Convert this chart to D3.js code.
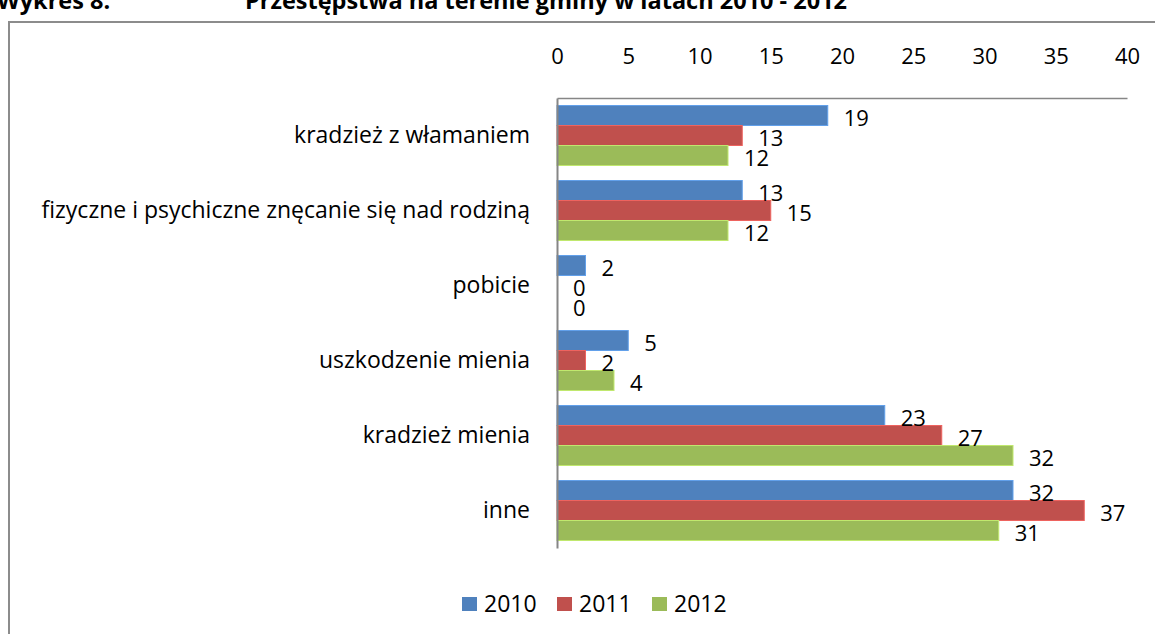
<!DOCTYPE html>
<html>
<head>
<meta charset="utf-8">
<script src="https://cdn.jsdelivr.net/npm/d3@7"></script>
<style>
  html, body { margin: 0; padding: 0; background: #fff; }
  svg { display: block; }
  text { font-family: "Open Sans", sans-serif; fill: #000; }
</style>
</head>
<body>
<div id="chart"></div>
<script>
// ── Data ─────────────────────────────────────────────────────────
const categories = [
  'kradzież z włamaniem',
  'fizyczne i psychiczne znęcanie się nad rodziną',
  'pobicie',
  'uszkodzenie mienia',
  'kradzież mienia',
  'inne'
];
const seriesNames = ['2010', '2011', '2012'];
const values2010 = [19, 13, 2, 5, 23, 32];
const values2011 = [13, 15, 0, 2, 27, 37];
const values2012 = [12, 12, 0, 4, 32, 31];
const xTicks = [0, 5, 10, 15, 20, 25, 30, 35, 40];
const COLORS = ['#4F81BD', '#C0504D', '#9BBB59'];

const W = 1155, H = 634;
const plot = { left: 557, right: 1127, top: 98, bottom: 548 };

const svg = d3.select('#chart').append('svg')
  .attr('width', W)
  .attr('height', H);

// ── Title (partly cut by the top edge) ───────────────────────────
const titleFont = '"Liberation Sans", Arial, sans-serif';
svg.append('text')
  .attr('x', -3)
  .attr('y', 9)
  .attr('font-family', titleFont)
  .attr('font-weight', 'bold')
  .attr('font-size', 23.5)
  .text('Wykres 8.');
svg.append('text')
  .attr('x', 245)
  .attr('y', 9)
  .attr('font-family', titleFont)
  .attr('font-weight', 'bold')
  .attr('font-size', 23.5)
  .text('Przestępstwa na terenie gminy w latach 2010 - 2012');

// chart frame
svg.append('path')
  .attr('d', `M9,${H} V22 H${W}`)
  .attr('fill', 'none')
  .attr('stroke', '#8c8c8c')
  .attr('stroke-width', 2);

// ── Scales ───────────────────────────────────────────────────────
const x = d3.scaleLinear().domain([0, 40]).range([plot.left, plot.right]);
const y = d3.scaleBand()
  .domain(categories)
  .range([plot.top, plot.bottom])
  .paddingInner(0.2)
  .paddingOuter(0.1);
const ySeries = d3.scaleBand()
  .domain(seriesNames)
  .range([0, y.bandwidth()]);

const series = [values2010, values2011, values2012];
const rows = [];
categories.forEach((c, ci) => {
  seriesNames.forEach((s, si) => {
    rows.push({ cat: c, name: s, value: series[si][ci], color: COLORS[si] });
  });
});

// ── Bars ─────────────────────────────────────────────────────────
svg.append('g').selectAll('rect')
  .data(rows)
  .enter()
  .append('rect')
  .attr('x', x(0))
  .attr('y', d => y(d.cat) + ySeries(d.name))
  .attr('width', d => x(d.value) - x(0))
  .attr('height', ySeries.bandwidth())
  .attr('fill', d => d.color)
  .attr('stroke', d => d3.color(d.color).brighter(0.6))
  .attr('stroke-width', d => d.value > 0 ? 1 : 0);

// value labels
svg.append('g').selectAll('text')
  .data(rows)
  .enter()
  .append('text')
  .attr('x', d => x(d.value) + 16)
  .attr('y', d => y(d.cat) + ySeries(d.name) + ySeries.bandwidth() / 2 + 10)
  .attr('font-size', 22)
  .text(d => d.value);

// ── Axes ─────────────────────────────────────────────────────────
const xAxis = svg.append('g')
  .attr('transform', `translate(0,${plot.top})`)
  .call(d3.axisTop(x).tickValues(xTicks).tickSize(0).tickPadding(34));
xAxis.select('.domain').attr('stroke', '#868686').attr('stroke-width', 1.5);
xAxis.selectAll('text')
  .attr('font-family', '"Open Sans", sans-serif')
  .attr('font-size', 22)
  .attr('fill', '#000');

const yAxis = svg.append('g')
  .attr('transform', `translate(${plot.left},0)`)
  .call(d3.axisLeft(y).tickSize(0).tickPadding(27));
yAxis.select('.domain').attr('stroke', '#868686').attr('stroke-width', 2);
yAxis.selectAll('text')
  .attr('font-family', '"Open Sans", sans-serif')
  .attr('font-size', 23)
  .attr('fill', '#000');

// ── Legend ───────────────────────────────────────────────────────
const legend = svg.append('g').attr('transform', 'translate(462,597)');
const item = legend.selectAll('g')
  .data(seriesNames)
  .enter()
  .append('g')
  .attr('transform', (d, i) => `translate(${i * 95},0)`);
item.append('rect')
  .attr('width', 15)
  .attr('height', 14)
  .attr('fill', (d, i) => COLORS[i]);
item.append('text')
  .attr('x', 22)
  .attr('y', 15)
  .attr('font-size', 23)
  .text(d => d);
</script>
</body>
</html>
